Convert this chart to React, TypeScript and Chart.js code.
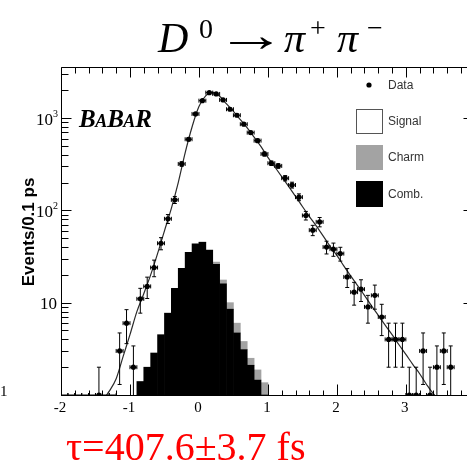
import React, { useEffect, useRef } from "react";
import { Chart, registerables } from "chart.js";
Chart.register(...registerables);

// ---- data ----
const binCenters = [-1.95,-1.85,-1.75,-1.65,-1.55,-1.45,-1.35,-1.25,-1.15,-1.05,-0.95,-0.85,-0.75,-0.65,-0.55,-0.45,-0.35,-0.25,-0.15,-0.05,0.05,0.15,0.25,0.35,0.45,0.55,0.65,0.75,0.85,0.95,1.05,1.15,1.25,1.35,1.45,1.55,1.65,1.75,1.85,1.95,2.05,2.15,2.25,2.35,2.45,2.55,2.65,2.75,2.85,2.95,3.05,3.15,3.25,3.35,3.45,3.55,3.65];
const dataCounts = [0,0,0,0,0,1,0,0,3,6,2,11,15,24,44,81,130,318,589,1107,1542,1884,1824,1571,1245,1072,857,695,569,408,324,303,223,188,139,88,61,75,40,38,34,19,13,14,9,12,7,4,4,4,1,1,3,1,2,3,2];
const dataErrors = [0,0,0,0,0,1,0,0,1.7,2.4,1.4,3.3,3.9,4.9,6.6,9,11.4,17.8,24.3,33.3,39.3,43.4,42.7,39.6,35.3,32.7,29.3,26.4,23.9,20.2,18,17.4,14.9,13.7,11.8,9.4,7.8,8.7,6.3,6.2,5.8,4.4,3.6,3.7,3,3.5,2.6,2,2,2,1,1,1.7,1,1.4,1.7,1.4];

const histCenters = [-0.85,-0.75,-0.65,-0.55,-0.45,-0.35,-0.25,-0.15,-0.05,0.05,0.15,0.25,0.35,0.45,0.55,0.65,0.75,0.85,0.95];
const combValues = [1.4,2.0,2.85,4.5,7.7,14.3,23.5,35,43.5,45,37,26,16,8.5,4.7,3.1,2.1,1.45,0];
const charmValues = [0,0,0,0,0,0,0,0,0,0.5,0.5,1.5,1.6,1.5,1.3,0.7,0.4,0.42,1.36];

const fitT = [-1.34,-1.3,-1.2,-1.1,-1.0,-0.9,-0.8,-0.7,-0.6,-0.5,-0.4,-0.3,-0.2,-0.1,0.0,0.1,0.2,0.3,0.4,0.5,0.6,0.7,0.8,0.9,1.0,1.1,1.2,1.3,1.4,1.5,1.6,1.7,1.8,1.9,2.0,2.1,2.2,2.3,2.4,2.5,2.6,2.7,2.8,2.9,3.0,3.1,3.2,3.3,3.4,3.42];
const fitN = [1.0,1.1,1.5,2.6,4.5,8,12.5,20,34,60,105,200,420,800,1330,1750,1900,1720,1420,1180,960,780,620,490,375,295,232,182,142,110,86,68,53,41,32.5,25,19.5,15.3,12,9.3,7.3,5.7,4.5,3.5,2.75,2.15,1.7,1.3,1.03,1.0];

const xTickValues = [-2,-1,0,1,2,3];
const xTickLabels = ["-2","-1","0","1","2","3"];
const yDecades = [1,10,100,1000];
const yTickMain = ["1","10","10","10"];
const yTickSup = ["","","2","3"];

const X_MIN = -2, X_MAX = 3.93, Y_MIN = 1, Y_MAX = 3570;

const decorPlugin = {
  id: "decor",
  afterDatasetsDraw(chart: any) {
    const ctx = chart.ctx;
    const xs = chart.scales.x, ys = chart.scales.y;
    const area = chart.chartArea;
    ctx.save();
    ctx.strokeStyle = "#000";
    ctx.lineWidth = 1;
    ctx.beginPath();
    ctx.rect(area.left, area.top, area.right - area.left, area.bottom - area.top + 1);
    ctx.clip();
    for (let i = 0; i < binCenters.length; i++) {
      const t = binCenters[i];
      const n = dataCounts[i];
      const e = dataErrors[i];
      const cx = xs.getPixelForValue(t);
      const cy = n > 0 ? ys.getPixelForValue(n) : area.bottom;
      const xl = xs.getPixelForValue(t - 0.05);
      const xr = xs.getPixelForValue(t + 0.05);
      ctx.beginPath();
      ctx.moveTo(xl, cy); ctx.lineTo(xr, cy);
      ctx.moveTo(xl, cy - 2); ctx.lineTo(xl, cy + 2);
      ctx.moveTo(xr, cy - 2); ctx.lineTo(xr, cy + 2);
      if (n > 0) {
        const top = ys.getPixelForValue(n + e);
        const lo = n - e;
        const bot = lo >= Y_MIN ? ys.getPixelForValue(lo) : area.bottom;
        ctx.moveTo(cx, top); ctx.lineTo(cx, bot);
        ctx.moveTo(cx - 2, top); ctx.lineTo(cx + 2, top);
        if (lo >= Y_MIN) { ctx.moveTo(cx - 2, bot); ctx.lineTo(cx + 2, bot); }
      }
      ctx.stroke();
    }
    ctx.restore();
  },
  afterDraw(chart: any) {
    const ctx = chart.ctx;
    const xs = chart.scales.x, ys = chart.scales.y;
    const a = chart.chartArea;
    const L = Math.round(a.left) + 0.5, R = Math.round(a.right) - 0.5;
    const T = Math.round(a.top) + 0.5, B = Math.round(a.bottom) + 0.5;
    ctx.save();
    ctx.strokeStyle = "#000";
    ctx.lineWidth = 1;
    ctx.beginPath();
    ctx.moveTo(L, T); ctx.lineTo(R, T); ctx.lineTo(R, B); ctx.lineTo(L, B); ctx.closePath();
    // x ticks
    for (let k = -10; k <= 20; k++) {
      const v = k * 0.2;
      if (v < X_MIN - 1e-9 || v > X_MAX) continue;
      const px = Math.round(xs.getPixelForValue(v)) + 0.5;
      const major = Math.abs(v - Math.round(v)) < 1e-6;
      ctx.moveTo(px, B); ctx.lineTo(px, B - (major ? 11 : 5));
      ctx.moveTo(px, T); ctx.lineTo(px, T + (major ? 10 : 6));
    }
    // y ticks
    for (const d of yDecades) {
      for (let m = 1; m <= 9; m++) {
        const v = d * m;
        if (v > Y_MAX) continue;
        const py = Math.round(ys.getPixelForValue(v)) + 0.5;
        if (m === 1) {
          ctx.moveTo(L, py); ctx.lineTo(L + 10, py);
          ctx.moveTo(R, py); ctx.lineTo(R - 6, py);
        } else {
          ctx.moveTo(L, py); ctx.lineTo(L + 7, py);
        }
      }
    }
    ctx.stroke();

    // x tick labels
    ctx.fillStyle = "#000";
    ctx.font = '15px "Liberation Serif"';
    ctx.textAlign = "center";
    ctx.textBaseline = "alphabetic";
    xTickValues.forEach((v, i) => {
      ctx.fillText(xTickLabels[i], xs.getPixelForValue(v) - 1, 412);
    });
    // y tick labels
    yDecades.forEach((v, i) => {
      const py = ys.getPixelForValue(v);
      if (v === 1) {
        ctx.font = '15px "Liberation Serif"';
        ctx.textAlign = "left";
        ctx.fillText(yTickMain[i], 0, py + 1);
        return;
      }
      if (yTickSup[i]) {
        ctx.font = '17px "Liberation Serif"';
        ctx.textAlign = "right";
        ctx.fillText(yTickMain[i], 53, py + 7);
        ctx.font = '10px "Liberation Serif"';
        ctx.textAlign = "left";
        ctx.fillText(yTickSup[i], 53, py - 1);
      } else {
        ctx.font = '17px "Liberation Serif"';
        ctx.textAlign = "right";
        ctx.fillText(yTickMain[i], 57, py + 6);
      }
    });

    // y axis title
    ctx.save();
    ctx.translate(29, 232);
    ctx.rotate(-Math.PI / 2);
    ctx.font = 'bold 17px "Liberation Sans"';
    ctx.textAlign = "center";
    ctx.textBaseline = "middle";
    ctx.fillText("Events/0.1 ps", 0, 0);
    ctx.restore();

    // BaBar logo
    ctx.textAlign = "left";
    ctx.textBaseline = "alphabetic";
    let bx = 79;
    const parts: [string, number][] = [["B", 25], ["A", 18], ["B", 25], ["A", 18], ["R", 25]];
    for (const [s, size] of parts) {
      ctx.font = `bold italic ${size}px "Liberation Serif"`;
      ctx.fillText(s, bx, 127);
      bx += ctx.measureText(s).width - (size === 18 ? 0 : 0.5);
    }

    // legend
    ctx.beginPath();
    ctx.arc(369, 85, 2.6, 0, Math.PI * 2);
    ctx.fill();
    ctx.fillStyle = "#fff";
    ctx.fillRect(356, 109, 27, 25);
    ctx.strokeStyle = "#555";
    ctx.strokeRect(356.5, 109.5, 26, 24);
    ctx.fillStyle = "#a3a3a3";
    ctx.fillRect(356, 145, 27, 25);
    ctx.fillStyle = "#000";
    ctx.fillRect(356, 181, 27, 26);
    ctx.fillStyle = "#333";
    ctx.font = '12px "Liberation Sans"';
    ctx.textBaseline = "middle";
    ctx.fillText("Data", 388, 86);
    ctx.fillText("Signal", 388, 122);
    ctx.fillText("Charm", 388, 158);
    ctx.fillText("Comb.", 388, 195);

    // title
    ctx.fillStyle = "#000";
    ctx.textBaseline = "alphabetic";
    ctx.font = 'italic 42px "Liberation Serif"';
    ctx.fillText("D", 158, 52);
    ctx.font = '28px "Liberation Serif"';
    ctx.fillText("0", 199, 38);
    // arrow: ink stretched horizontally to span x 229..273, centred at y 43
    ctx.save();
    ctx.font = '48px "Liberation Serif"';
    const m = ctx.measureText("\u2192");
    const inkL = m.actualBoundingBoxLeft || 0;
    const inkR = m.actualBoundingBoxRight || m.width;
    const inkW = Math.max(1, inkL + inkR);
    const asc = m.actualBoundingBoxAscent || 0;
    const desc = m.actualBoundingBoxDescent || 0;
    const base = 43 + (asc - desc) / 2;
    const sx = 44 / inkW;
    ctx.translate(229 + inkL * sx, base);
    ctx.scale(sx, 1);
    ctx.fillText("\u2192", 0, 0);
    ctx.restore();
    ctx.font = 'italic 42px "Liberation Serif"';
    ctx.fillText("\u03C0", 284, 52);
    ctx.font = '28px "Liberation Serif"';
    ctx.fillText("+", 310, 37);
    ctx.font = 'italic 42px "Liberation Serif"';
    ctx.fillText("\u03C0", 337, 52);
    ctx.font = '28px "Liberation Serif"';
    ctx.fillText("\u2212", 367, 37);

    // lifetime result
    ctx.fillStyle = "#ff0000";
    ctx.font = '40px "Liberation Serif"';
    ctx.fillText("\u03C4=407.6\u00B13.7 fs", 66, 460);
    ctx.restore();
  },
};

export default function App() {
  const ref = useRef<HTMLCanvasElement>(null);
  useEffect(() => {
    if (!ref.current) return;
    const chart = new Chart(ref.current, {
      type: "bar",
      data: {
        datasets: [
          {
            type: "line",
            label: "Data",
            data: binCenters.map((t, i) => ({ x: t, y: dataCounts[i] })),
            showLine: false,
            pointRadius: (c: any) => (c.raw && c.raw.y > 0 ? 2.6 : 0),
            pointBackgroundColor: "#000",
            pointBorderColor: "#000",
            pointBorderWidth: 0,
            order: 0,
          } as any,
          {
            type: "line",
            label: "Fit",
            data: fitT.map((t, i) => ({ x: t, y: fitN[i] })),
            borderColor: "#2a2a2a",
            borderWidth: 1.2,
            pointRadius: 0,
            cubicInterpolationMode: "monotone",
            order: 1,
          } as any,
          {
            type: "bar",
            label: "Comb.",
            data: histCenters.map((t, i) => ({ x: t, y: combValues[i] })),
            backgroundColor: "#000",
            borderWidth: 0,
            barPercentage: 1,
            categoryPercentage: 1,
            stack: "hist",
            order: 2,
          } as any,
          {
            type: "bar",
            label: "Charm",
            data: histCenters.map((t, i) => ({ x: t, y: charmValues[i] })),
            backgroundColor: "#a3a3a3",
            borderWidth: 0,
            barPercentage: 1,
            categoryPercentage: 1,
            stack: "hist",
            order: 3,
          } as any,
        ],
      },
      options: {
        responsive: false,
        animation: false,
        devicePixelRatio: 1,
        layout: { padding: { left: 61, right: 10, top: 67, bottom: 71 } },
        plugins: { legend: { display: false }, tooltip: { enabled: false }, title: { display: false } },
        scales: {
          x: { type: "linear", min: X_MIN, max: X_MAX, offset: false, display: false },
          y: { type: "logarithmic", min: Y_MIN, max: Y_MAX, display: false },
        },
      } as any,
      plugins: [decorPlugin],
    });
    return () => chart.destroy();
  }, []);
  return (
    <div style={{ position: "absolute", left: 0, top: 0, width: 467, height: 466, overflow: "hidden", background: "#fff" }}>
      <canvas ref={ref} width={480} height={466} style={{ display: "block" }} />
    </div>
  );
}
